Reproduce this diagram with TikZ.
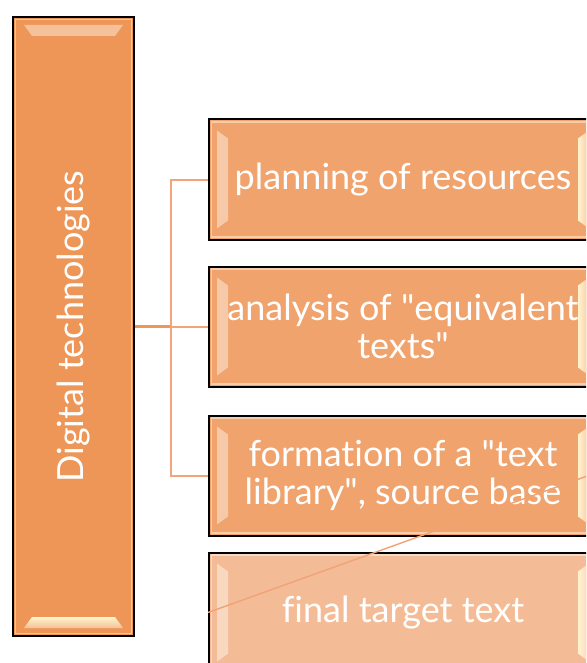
\documentclass[tikz,border=0pt]{standalone}
\usepackage{fontspec}
\setmainfont{Lato}[Ligatures=NoCommon]
\usepackage{tikz}
\usepackage{xcolor}
\usetikzlibrary{positioning}

\definecolor{techfill}{HTML}{EE9657}
\definecolor{stepfill}{HTML}{F0A36C}
\definecolor{lastfill}{HTML}{F4BC96}
\definecolor{linkcol}{HTML}{F2A57A}
\definecolor{glint}{HTML}{FFF4CC}

\begin{document}
\begin{tikzpicture}[
x=1pt, y=-1pt,
node distance=25pt,
box/.style={draw=black, line width=2pt, text=white, align=center, font=\fontsize{36}{38}\selectfont},
vbevel/.style={path picture={
  \fill[left color=#1!60!white, right color=glint]
    ([xshift=8pt,yshift=-11pt]path picture bounding box.north west) -- ([xshift=19pt,yshift=-19pt]path picture bounding box.north west)
    -- ([xshift=19pt,yshift=19pt]path picture bounding box.south west) -- ([xshift=8pt,yshift=11pt]path picture bounding box.south west) -- cycle;
  \fill[right color=#1!60!white, left color=glint]
    ([xshift=-8pt,yshift=-11pt]path picture bounding box.north east) -- ([xshift=-19pt,yshift=-19pt]path picture bounding box.north east)
    -- ([xshift=-19pt,yshift=19pt]path picture bounding box.south east) -- ([xshift=-8pt,yshift=11pt]path picture bounding box.south east) -- cycle;
  \draw[#1!55!white, line width=1.5pt] ([xshift=2.5pt,yshift=-2.5pt]path picture bounding box.north west) rectangle ([xshift=-2.5pt,yshift=2.5pt]path picture bounding box.south east);
}},
hbevel/.style={path picture={
  \fill[top color=#1!60!white, bottom color=glint]
    ([xshift=11pt,yshift=-8pt]path picture bounding box.north west) -- ([xshift=-11pt,yshift=-8pt]path picture bounding box.north east)
    -- ([xshift=-19pt,yshift=-19pt]path picture bounding box.north east) -- ([xshift=19pt,yshift=-19pt]path picture bounding box.north west) -- cycle;
  \fill[bottom color=#1!60!white, top color=glint]
    ([xshift=11pt,yshift=8pt]path picture bounding box.south west) -- ([xshift=-11pt,yshift=8pt]path picture bounding box.south east)
    -- ([xshift=-19pt,yshift=19pt]path picture bounding box.south east) -- ([xshift=19pt,yshift=19pt]path picture bounding box.south west) -- cycle;
  \draw[#1!55!white, line width=1.5pt] ([xshift=2.5pt,yshift=-2.5pt]path picture bounding box.north west) rectangle ([xshift=-2.5pt,yshift=2.5pt]path picture bounding box.south east);
}},
techbox/.style={box, fill=techfill, hbevel=techfill, minimum width=121pt, minimum height=619pt},
stepbox/.style={box, fill=stepfill, vbevel=stepfill, minimum width=388pt, minimum height=120pt},
lastbox/.style={box, fill=lastfill, vbevel=lastfill, minimum width=388pt, minimum height=120pt},
stem/.style={techfill, line width=3pt},
branch/.style={linkcol, line width=2pt}
]
\useasboundingbox (0,0) rectangle (586,663);
\clip (0,0) rectangle (586,663);
\node[techbox] (tech) at (73.5,326.5) {};
\node[rotate=90, text=white, font=\fontsize{36}{38}\selectfont] (techlabel) at (tech.center) {Digital technologies};
\node[stepbox, right=73pt of tech] (t2) {analysis of \textquotedbl equivalent\\texts\textquotedbl};
\node[stepbox, above=of t2] (t1) {planning of resources};
\node[stepbox, below=27pt of t2] (t3) {formation of a \textquotedbl text\\library\textquotedbl, source base};
\node[lastbox, below=15pt of t3] (t4) {final target text};
\coordinate (hub) at ([xshift=-37pt]t2.west);
\coordinate (far) at (640,457);
\draw[stem] (tech.east) -- (hub);
\draw[branch] (hub) -- (t2.west);
\draw[branch] (t1.west) -| (hub) |- (t3.west);
\draw[linkcol!90!techfill, line width=1.4pt] (t4.west) -- (far);
\end{tikzpicture}
\end{document}
